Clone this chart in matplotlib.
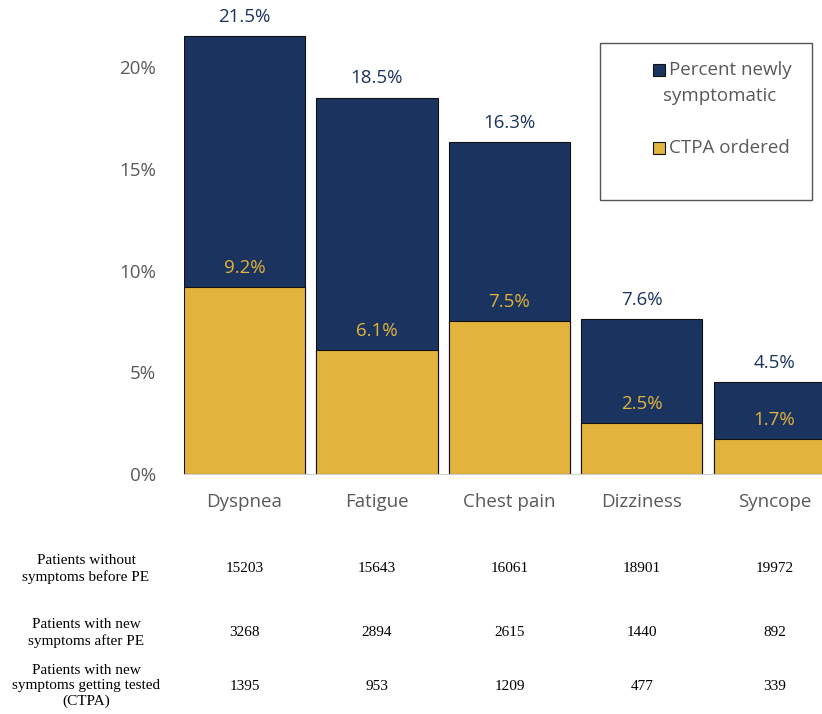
import matplotlib.pyplot as plt
import matplotlib.transforms as mtransforms
from matplotlib.patches import Rectangle

symptoms = ['Dyspnea', 'Fatigue', 'Chest pain', 'Dizziness', 'Syncope']
pct_new = [21.5, 18.5, 16.3, 7.6, 4.5]
pct_ctpa = [9.2, 6.1, 7.5, 2.5, 1.7]
series_names = ['Percent newly\nsymptomatic', 'CTPA ordered']

row_labels = ['Patients without\nsymptoms before PE',
              'Patients with new\nsymptoms after PE',
              'Patients with new\nsymptoms getting tested\n(CTPA)']
no_symptoms_before = [15203, 15643, 16061, 18901, 19972]
new_symptoms_after = [3268, 2894, 2615, 1440, 892]
tested_ctpa = [1395, 953, 1209, 477, 339]

navy = '#1b345f'
gold = '#e2b33d'
grey = '#595959'

plt.rcParams['font.family'] = ['Open Sans', 'DejaVu Sans']

fig = plt.figure(figsize=(8.22, 7.14), dpi=100)
W, H = 822, 714
ax = fig.add_axes([184 / W, 1 - 474 / H, 1 - 184 / W, 474 / H])

x = range(len(symptoms))
ax.bar(x, pct_new, width=0.914, color=navy, edgecolor='#111111', linewidth=0.8)
ax.bar(x, pct_ctpa, width=0.914, color=gold, edgecolor='#111111', linewidth=0.8)

for i in x:
    ax.text(i, pct_new[i] + 0.5, f'{pct_new[i]}%', ha='center', va='bottom',
            color=navy, fontsize=13.5)
    ax.text(i, pct_ctpa[i] + 0.5, f'{pct_ctpa[i]}%', ha='center', va='bottom',
            color=gold, fontsize=13.5)

ax.set_xlim(-0.457, 4.36)
ax.set_ylim(0, 474 / 20.35)
ax.set_yticks([0, 5, 10, 15, 20])
ax.set_yticklabels(['0%', '5%', '10%', '15%', '20%'])
ax.set_xticks(list(x))
ax.set_xticklabels(symptoms)
ax.tick_params(axis='both', length=0, colors=grey, labelsize=13.5)
ax.tick_params(axis='y', pad=20)
ax.tick_params(axis='x', pad=14)
for side in ['top', 'right', 'left']:
    ax.spines[side].set_visible(False)
ax.spines['bottom'].set_color('#d0d0d0')
ax.patch.set_alpha(0)

# legend box drawn by hand so the text can be centred inside a wide frame
fig.patches.append(Rectangle((600 / W, 1 - 200 / H), 212 / W, 157 / H,
                             transform=fig.transFigure, facecolor='white',
                             edgecolor='#555555', linewidth=1.0))
for color, name, y in zip([navy, gold], series_names, [70, 148]):
    fig.patches.append(Rectangle((653 / W, 1 - (y + 6) / H), 12 / W, 12 / H,
                                 transform=fig.transFigure, facecolor=color,
                                 edgecolor='#111111', linewidth=0.8))
    first, *rest = name.split('\n')
    fig.text(669 / W, 1 - y / H, first, ha='left', va='center',
             color=grey, fontsize=13.5)
    for k, line in enumerate(rest):
        fig.text(720 / W, 1 - (y + 26 * (k + 1)) / H, line, ha='center',
                 va='center', color=grey, fontsize=13.5)

# table of patient counts under the bars
trans = mtransforms.blended_transform_factory(ax.transData, fig.transFigure)
rows = [no_symptoms_before, new_symptoms_after, tested_ctpa]
row_y = [569, 633, 686]
for label, values, y in zip(row_labels, rows, row_y):
    fig.text(86 / W, 1 - y / H, label, ha='center', va='center',
             family='Liberation Serif', fontsize=11, linespacing=1.25)
    for i, v in enumerate(values):
        ax.text(i, 1 - y / H, str(v), transform=trans, ha='center', va='center',
                family='Liberation Serif', fontsize=11)

fig.savefig('out.png', dpi=100)
